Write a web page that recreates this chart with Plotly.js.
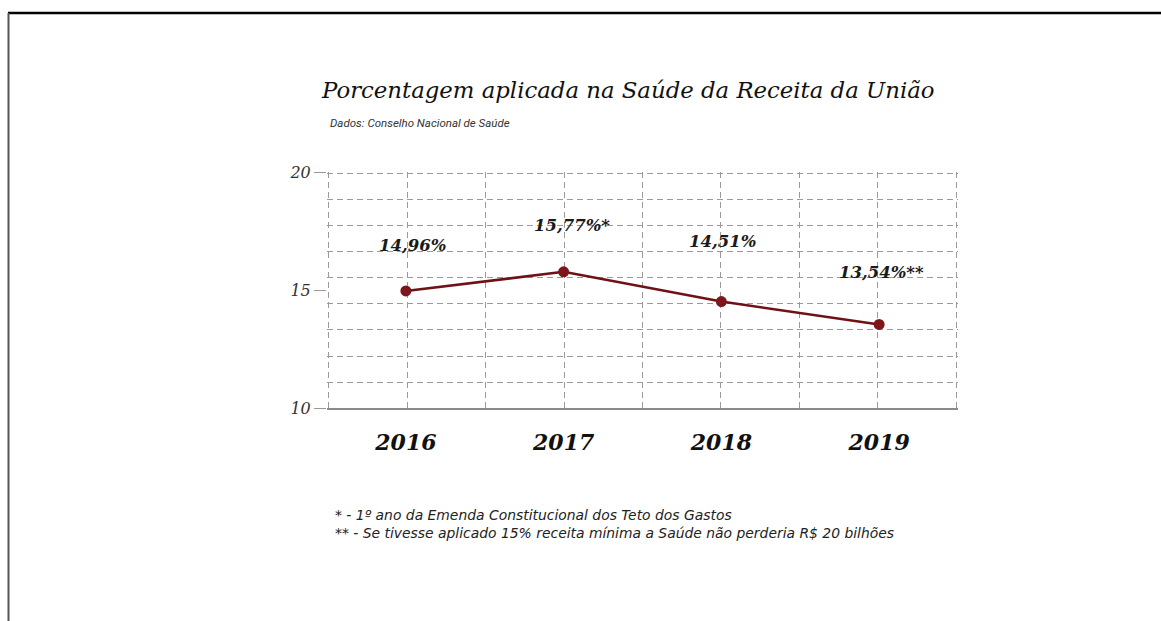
<!DOCTYPE html>
<html>
<head>
<meta charset="utf-8">
<script src="https://cdn.plot.ly/plotly-3.0.1.min.js"></script>
<style>html,body{margin:0;padding:0;background:#fff;}#chart{width:1161px;height:621px;}</style>
</head>
<body>
<div id="chart"></div>
<script>
// ---- data ----
const years = ['2016', '2017', '2018', '2019'];
const percentValues = [14.96, 15.77, 14.51, 13.54];
const labelSuffix = ['', '*', '', '**'];
const yTickValues = [10, 15, 20];
const titleText = 'Porcentagem aplicada na Saúde da Receita da União';
const subtitleText = 'Dados: Conselho Nacional de Saúde';
const footnotes = [
  '* - 1º ano da Emenda Constitucional dos Teto dos Gastos',
  '** - Se tivesse aplicado 15% receita mínima a Saúde não perderia R$ 20 bilhões'
];

// ---- styles ----
const W = 1161, H = 621;
const labelXShift = [7, 8, 2, 2];
const labelYShift = [45, 46, 60, 52];
const serif = 'DejaVu Serif';
const lineColor = '#6f1217';
const gridColor = '#9a9a9a';

// plot box in pixels
const px = {left: 327, right: 958, top: 172, bottom: 408};
const xRange = [-0.5, 3.5], yRange = [10, 20];
const pad = 2; // grid axes extend by a couple of px so edge gridlines are drawn
const xUnit = (xRange[1] - xRange[0]) / (px.right - px.left);
const yUnit = (yRange[1] - yRange[0]) / (px.bottom - px.top);

const traces = [
  {
    x: years, y: percentValues, type: 'scatter', mode: 'lines+markers',
    line: {color: lineColor, width: 2.6},
    marker: {color: '#7d171c', size: 11},
    hoverinfo: 'skip', xaxis: 'x', yaxis: 'y'
  },
  { x: [], y: [], type: 'scatter', mode: 'markers', xaxis: 'x2', yaxis: 'y2', hoverinfo: 'skip', showlegend: false }
];

const annotations = percentValues.map((v, i) => ({
  x: i, y: v, xref: 'x', yref: 'y',
  text: v.toFixed(2).replace('.', ',') + '%' + labelSuffix[i],
  showarrow: false, xshift: labelXShift[i], yshift: labelYShift[i],
  font: {family: serif, size: 16.5, style: 'italic', weight: 'bold', color: '#1a1a1a'}
}));
annotations.push({
  xref: 'paper', yref: 'paper', x: 328 / W, y: 1 - 123 / H, xanchor: 'left', yanchor: 'middle',
  text: subtitleText, showarrow: false,
  font: {family: 'Roboto', size: 11.5, style: 'italic', color: '#333'}
});
annotations.push({
  xref: 'paper', yref: 'paper', x: 333 / W, y: 1 - 524 / H, xanchor: 'left', yanchor: 'middle',
  align: 'left', text: footnotes.join('<br>'), showarrow: false,
  font: {family: 'DejaVu Sans', size: 13.9, style: 'italic', color: '#222'}
});

const xDomain = [px.left / W, px.right / W];
const yDomain = [1 - px.bottom / H, 1 - px.top / H];
const xDomain2 = [(px.left - pad) / W, (px.right + pad) / W];
const yDomain2 = [1 - px.bottom / H, 1 - (px.top - pad) / H];
const xRange2 = [xRange[0] - pad * xUnit, xRange[1] + pad * xUnit];
const yRange2 = [yRange[0], yRange[1] + pad * yUnit];

const layout = {
  width: W, height: H,
  margin: {l: 0, r: 0, t: 0, b: 0},
  paper_bgcolor: '#fff', plot_bgcolor: 'rgba(0,0,0,0)',
  showlegend: false,
  title: {
    text: titleText, x: 322 / W, xanchor: 'left', xref: 'paper',
    y: 1 - 90 / H, yanchor: 'middle', yref: 'paper',
    font: {family: serif, size: 22.8, style: 'italic', color: '#111'}
  },
  xaxis: {
    type: 'category', domain: xDomain, range: xRange,
    showgrid: false, zeroline: false,
    showline: true, linecolor: '#8a8a8a', linewidth: 2,
    ticks: '', ticklabelstandoff: 14,
    tickfont: {family: serif, size: 22, style: 'italic', weight: 'bold', color: '#111'},
    fixedrange: true
  },
  yaxis: {
    domain: yDomain, range: yRange,
    tickmode: 'array', tickvals: yTickValues,
    showgrid: false, zeroline: false, showline: false,
    ticks: 'outside', ticklen: 12, tickcolor: '#999', tickwidth: 1,
    tickfont: {family: serif, size: 16, style: 'italic', color: '#333'},
    fixedrange: true
  },
  xaxis2: {
    overlaying: 'x', anchor: 'y2', domain: xDomain2, range: xRange2,
    tickmode: 'linear', tick0: xRange[0], dtick: 0.5,
    showgrid: true, gridcolor: gridColor, gridwidth: 1, griddash: '6px,4px',
    showticklabels: false, ticks: '', zeroline: false, showline: false
  },
  yaxis2: {
    overlaying: 'y', anchor: 'x2', domain: yDomain2, range: yRange2,
    tickmode: 'linear', tick0: yRange[0], dtick: (yRange[1] - yRange[0]) / 9,
    showgrid: true, gridcolor: gridColor, gridwidth: 1, griddash: '6px,4px',
    showticklabels: false, ticks: '', zeroline: false, showline: false
  },
  annotations: annotations,
  shapes: [
    {type: 'line', xref: 'paper', yref: 'paper', x0: 8 / W, x1: 1, y0: 1 - 13 / H, y1: 1 - 13 / H,
     line: {color: '#000', width: 2.5}},
    {type: 'line', xref: 'paper', yref: 'paper', x0: 8.5 / W, x1: 8.5 / W, y0: 0, y1: 1 - 13 / H,
     line: {color: '#555', width: 2}}
  ]
};

Plotly.newPlot('chart', traces, layout, {displayModeBar: false, staticPlot: true});
</script>
</body>
</html>
